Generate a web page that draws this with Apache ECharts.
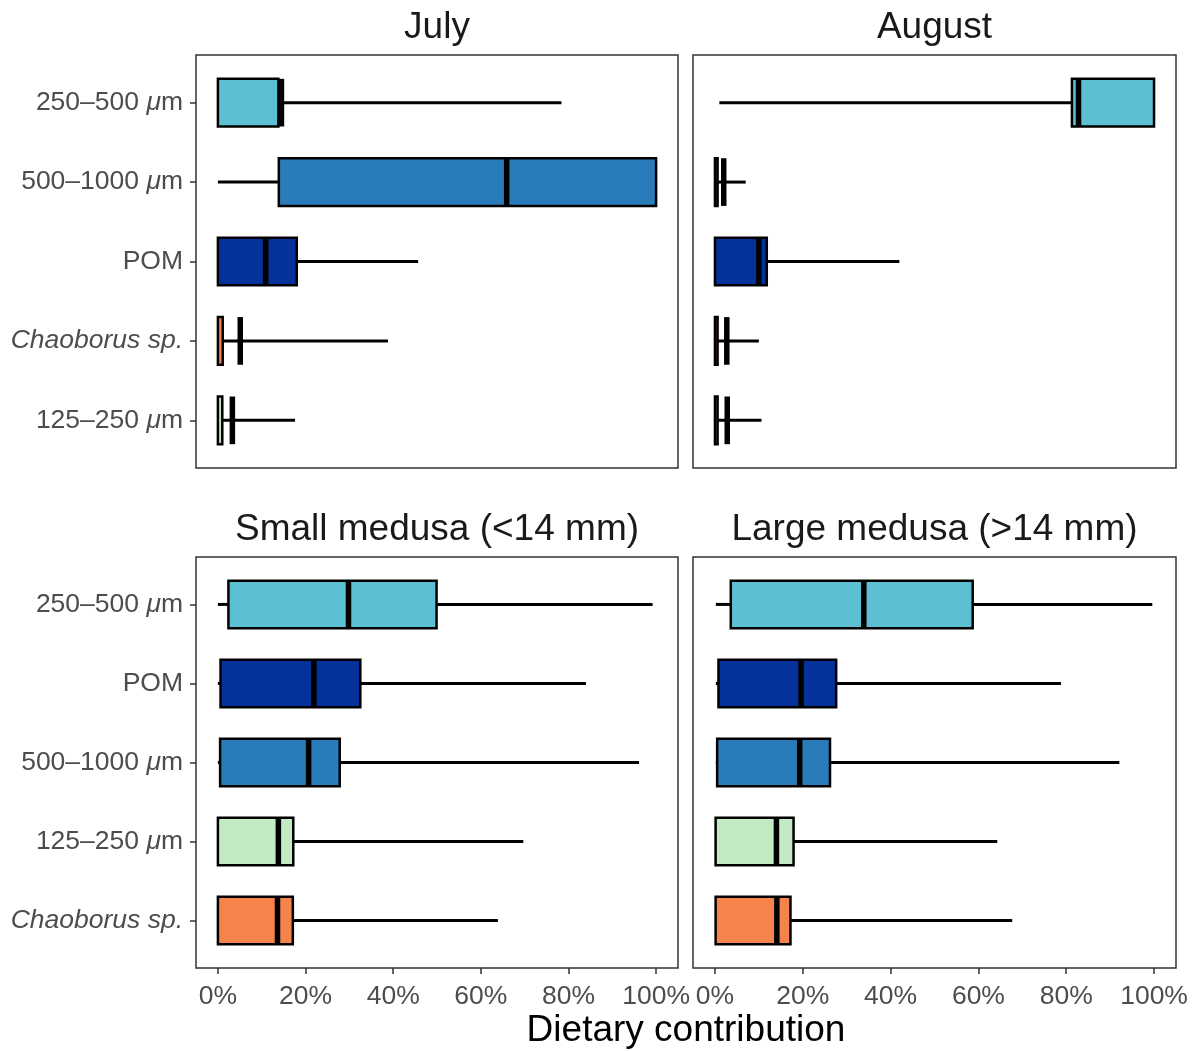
<!DOCTYPE html>
<html>
<head>
<meta charset="utf-8">
<script src="https://cdn.jsdelivr.net/npm/echarts@6/dist/echarts.min.js"></script>
<style>
  html, body { margin: 0; padding: 0; background: #fff; }
  #chart { width: 1199px; height: 1051px; }
</style>
</head>
<body>
<div id="chart"></div>
<script>
// categories, top to bottom, for each row of panels
const topCats = ['250–500 μm', '500–1000 μm', 'POM', 'Chaoborus sp.', '125–250 μm']
const bottomCats = ['250–500 μm', 'POM', '500–1000 μm', '125–250 μm', 'Chaoborus sp.']
const panelTitles = ['July', 'August', 'Small medusa (<14 mm)', 'Large medusa (>14 mm)']
const xTicks = [0, 20, 40, 60, 80, 100]

// box stats in %: [lower whisker, Q1, median, Q3, upper whisker], same order as the categories
const julyStats = [
  [0, 0, 14.5, 13.8, 78.4],
  [0, 13.9, 65.9, 100, 100],
  [0, 0, 10.9, 18.0, 45.7],
  [0, 0, 5.1, 1.1, 38.8],
  [0, 0, 3.3, 1.0, 17.6]
]
const augustStats = [
  [1.0, 81.3, 82.8, 100, 100],
  [0, 0, 2.0, 0.6, 7.0],
  [0, 0, 10.0, 11.8, 42.0],
  [0, 0, 2.7, 0.6, 10.0],
  [0, 0, 2.8, 0.6, 10.6]
]
const smallStats = [
  [0, 2.4, 29.8, 49.9, 99.2],
  [0, 0.6, 21.9, 32.5, 84.0],
  [0, 0.5, 20.7, 27.8, 96.1],
  [0, 0, 13.8, 17.2, 69.7],
  [0, 0, 13.6, 17.1, 63.9]
]
const largeStats = [
  [0.2, 3.6, 33.9, 58.7, 99.6],
  [0.2, 0.8, 19.6, 27.6, 78.8],
  [0.2, 0.5, 19.3, 26.2, 92.1],
  [0, 0.15, 14.0, 17.9, 64.3],
  [0, 0.15, 14.1, 17.2, 67.7]
]

const fillColors = {
  '250–500 μm': '#5cc0d2',
  '500–1000 μm': '#2a7bba',
  'POM': '#04319a',
  'Chaoborus sp.': '#f5834c',
  '125–250 μm': '#c2eac4'
}

const FONT = '"Liberation Sans", Arial, Helvetica, sans-serif'
const labelColor = '#4d4d4d'
const tickSize = 26.5
const titleSize = 37

const grids = [
  { left: 196, top: 55, width: 482, height: 413 },
  { left: 693, top: 55, width: 483, height: 413 },
  { left: 196, top: 557, width: 482, height: 411 },
  { left: 693, top: 557, width: 483, height: 411 }
]

function labelText (name) {
  if (name === 'Chaoborus sp.') return '{it|Chaoborus sp.}'
  return name.replace('μ', '{it|μ}')
}

function makeData (cats, stats) {
  return stats.map((s, i) => [i].concat(s).concat([cats[i]]))
}

function renderBox (params, api) {
  const cat = api.value(0)
  const low = api.coord([api.value(1), cat])
  const q1 = api.coord([api.value(2), cat])
  const med = api.coord([api.value(3), cat])
  const q3 = api.coord([api.value(4), cat])
  const high = api.coord([api.value(5), cat])
  const name = api.value(6)
  const half = api.size([0, 1])[1] * 0.3
  const cy = q1[1]
  return {
    type: 'group',
    children: [
      {
        type: 'line',
        shape: { x1: low[0], y1: cy, x2: q1[0], y2: cy },
        style: { stroke: '#000', lineWidth: 3 }
      },
      {
        type: 'line',
        shape: { x1: q3[0], y1: cy, x2: high[0], y2: cy },
        style: { stroke: '#000', lineWidth: 3 }
      },
      {
        type: 'rect',
        shape: { x: q1[0], y: cy - half, width: q3[0] - q1[0], height: half * 2 },
        style: { fill: fillColors[name], stroke: '#000', lineWidth: 2.5 }
      },
      {
        type: 'line',
        shape: { x1: med[0], y1: cy - half, x2: med[0], y2: cy + half },
        style: { stroke: '#000', lineWidth: 5.5 }
      }
    ]
  }
}

const panels = [
  { cats: topCats, stats: julyStats },
  { cats: topCats, stats: augustStats },
  { cats: bottomCats, stats: smallStats },
  { cats: bottomCats, stats: largeStats }
]

const chart = echarts.init(document.getElementById('chart'))

chart.setOption({
  backgroundColor: '#fff',
  animation: false,
  grid: grids.map(g => Object.assign({
    show: true,
    borderColor: '#333',
    borderWidth: 1.5,
    backgroundColor: '#fff'
  }, g)),
  xAxis: panels.map((p, i) => ({
    type: 'value',
    gridIndex: i,
    position: 'bottom',
    min: -5,
    max: 105,
    splitLine: { show: false },
    axisLine: { show: false, onZero: false },
    axisTick: {
      show: i >= 2,
      customValues: xTicks,
      length: 6,
      lineStyle: { color: '#333', width: 1.5 }
    },
    axisLabel: {
      show: i >= 2,
      customValues: xTicks,
      formatter: v => v + '%',
      margin: 15,
      fontSize: tickSize,
      fontFamily: FONT,
      color: labelColor
    }
  })),
  yAxis: panels.map((p, i) => ({
    type: 'value',
    gridIndex: i,
    position: 'left',
    min: -0.6,
    max: 4.6,
    inverse: true,
    splitLine: { show: false },
    axisLine: { show: false, onZero: false },
    axisTick: {
      show: i % 2 === 0,
      customValues: [0, 1, 2, 3, 4],
      length: 6,
      lineStyle: { color: '#333', width: 1.5 }
    },
    axisLabel: {
      show: i % 2 === 0,
      customValues: [0, 1, 2, 3, 4],
      formatter: v => labelText(p.cats[Math.round(v)]),
      margin: 13,
      fontSize: tickSize,
      fontFamily: FONT,
      color: labelColor,
      rich: {
        it: { fontStyle: 'italic', fontSize: tickSize, fontFamily: FONT, color: labelColor }
      }
    }
  })),
  series: panels.map((p, i) => ({
    type: 'custom',
    xAxisIndex: i,
    yAxisIndex: i,
    renderItem: renderBox,
    encode: { x: [1, 2, 3, 4, 5], y: 0 },
    data: makeData(p.cats, p.stats)
  })),
  graphic: panelTitles.map((t, i) => ({
    type: 'text',
    x: grids[i].left + grids[i].width / 2,
    y: grids[i].top - 27,
    style: {
      text: t,
      fontSize: titleSize,
      fontFamily: FONT,
      fill: '#1a1a1a',
      align: 'center',
      verticalAlign: 'middle'
    }
  })).concat([{
    type: 'text',
    x: 686,
    y: 1031,
    style: {
      text: 'Dietary contribution',
      fontSize: titleSize,
      fontFamily: FONT,
      fill: '#000',
      align: 'center',
      verticalAlign: 'middle'
    }
  }])
})
</script>
</body>
</html>
